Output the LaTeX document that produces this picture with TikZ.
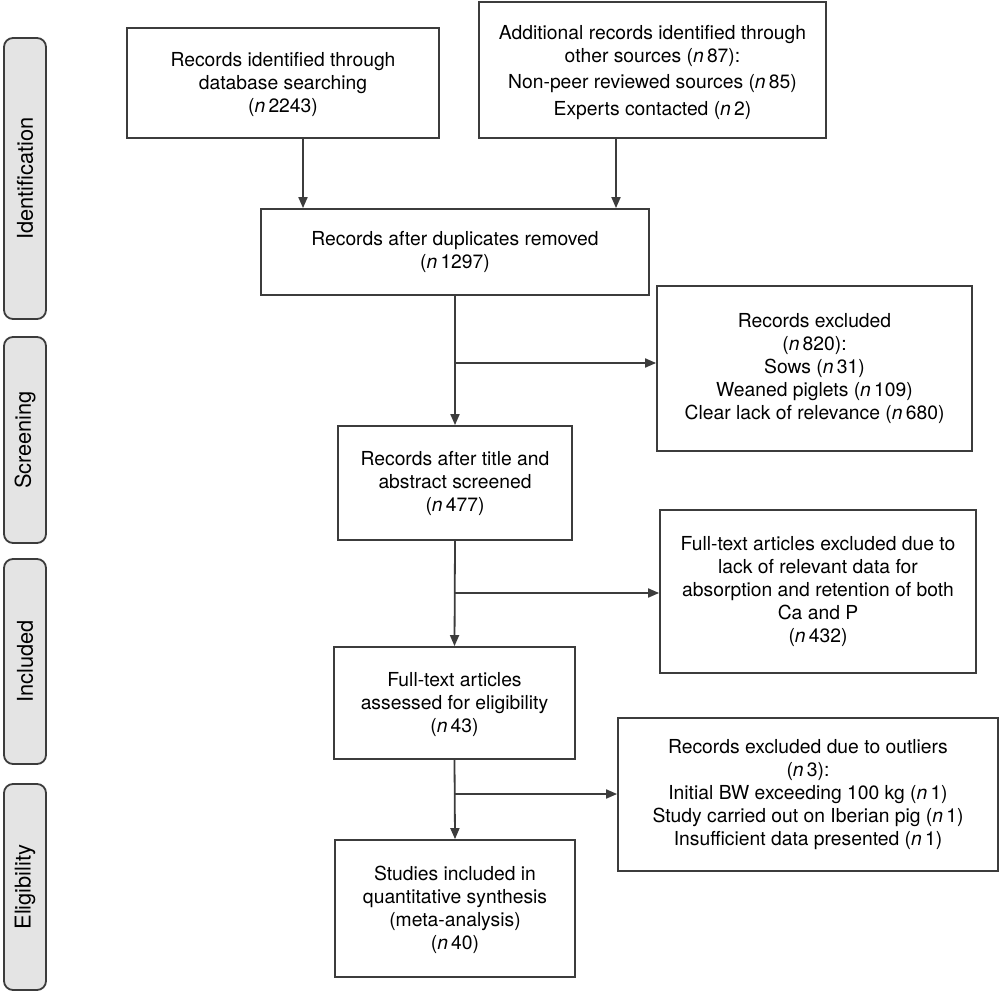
\documentclass[tikz,border=0pt]{standalone}
\usepackage{fontspec}
\setmainfont{TeX Gyre Heros}
\usetikzlibrary{arrows.meta,calc}
\definecolor{linec}{HTML}{3C3C3C}
\definecolor{sidefill}{HTML}{E4E4E4}
\begin{document}
\begin{tikzpicture}[x=1pt,y=-1pt,
  box/.style={draw=linec, line width=1.8pt, rectangle, align=center, inner sep=2pt,
    font=\fontsize{19.3}{23}\selectfont},
  side/.style={draw=linec, line width=1.8pt, fill=sidefill, rounded corners=9pt,
    minimum width=42pt, inner sep=0pt},
  sidetext/.style={rotate=90, font=\fontsize{21.8}{26}\selectfont},
  arr/.style={draw=linec, line width=1.8pt, -{Triangle[length=11pt,width=9pt]}},
  ln/.style={draw=linec, line width=1.8pt}]
\useasboundingbox (0,0) rectangle (1000,992);
\fill[white] (0,0) rectangle (1000,992);

% side labels
\node[side, minimum height=281pt] (s1) at (25,178.5) {};
\node[sidetext] (t1) at (s1.center) {Identification};
\node[side, minimum height=206pt] (s2) at (25,440) {};
\node[sidetext] (t2) at (s2.center) {Screening};
\node[side, minimum height=205pt] (s3) at (25,661.5) {};
\node[sidetext] (t3) at (s3.center) {Included};
\node[side, minimum height=206pt] (s4) at (25,887) {};
\node[sidetext] (t4) at (s4.center) {Eligibility};

% main boxes
\node[box, minimum width=312pt, minimum height=110pt] (A) at (283,83)
  {\rule{0pt}{17pt}Records identified through\\database searching\\(\textit{n}\,2243)};
\node[box, minimum width=347pt, minimum height=136pt] (B) at (652.5,70)
  {\rule{0pt}{20pt}Additional records identified through\\other sources (\textit{n}\,87):\\[3pt]Non-peer reviewed sources (\textit{n}\,85)\\[4pt]Experts contacted (\textit{n}\,2)};
\node[box, minimum width=388pt, minimum height=86pt] (C) at (455,252)
  {Records after duplicates removed\\(\textit{n}\,1297)};
\node[box, minimum width=315pt, minimum height=165pt] (E) at (814.5,368.5)
  {Records excluded\\(\textit{n}\,820):\\Sows (\textit{n}\,31)\\Weaned piglets (\textit{n}\,109)\\Clear lack of relevance (\textit{n}\,680)};
\node[box, minimum width=234pt, minimum height=114pt] (D) at (455,483)
  {Records after title and\\abstract screened\\(\textit{n}\,477)};
\node[box, minimum width=316pt, minimum height=163pt] (G) at (818,591.5)
  {Full-text articles excluded due to\\lack of relevant data for\\absorption and retention of both\\Ca and P\\(\textit{n}\,432)};
\node[box, minimum width=241pt, minimum height=112pt] (F) at (454.5,703)
  {\rule{0pt}{17pt}Full-text articles\\assessed for eligibility\\(\textit{n}\,43)};
\node[box, minimum width=380pt, minimum height=153pt] (I) at (808,794.5)
  {Records excluded due to outliers\\(\textit{n}\,3):\\Initial BW exceeding 100 kg (\textit{n}\,1)\\Study carried out on Iberian pig (\textit{n}\,1)\\Insufficient data presented (\textit{n}\,1)};
\node[box, minimum width=240pt, minimum height=137pt] (H) at (455,908.5)
  {\rule{0pt}{17pt}Studies included in\\quantitative synthesis\\(meta-analysis)\\(\textit{n}\,40)};

% connectors
\draw[arr] ([xshift=20pt]A.south) -- ([xshift=20pt]A.south |- C.north);
\draw[arr] ([xshift=-36.5pt]B.south) -- ([xshift=-36.5pt]B.south |- C.north);
\draw[arr] (C.south) -- (D.north);
\draw[arr] (D.south) -- (F.north);
\draw[arr] (F.south) -- (H.north);
\coordinate (j1) at (455,363);
\coordinate (j2) at (455,593);
\coordinate (j3) at (455,794);
\draw[arr] (j1) -- (j1 -| E.west);
\draw[arr] (j2) -- (j2 -| G.west);
\draw[arr] (j3) -- (j3 -| I.west);
\end{tikzpicture}
\end{document}
